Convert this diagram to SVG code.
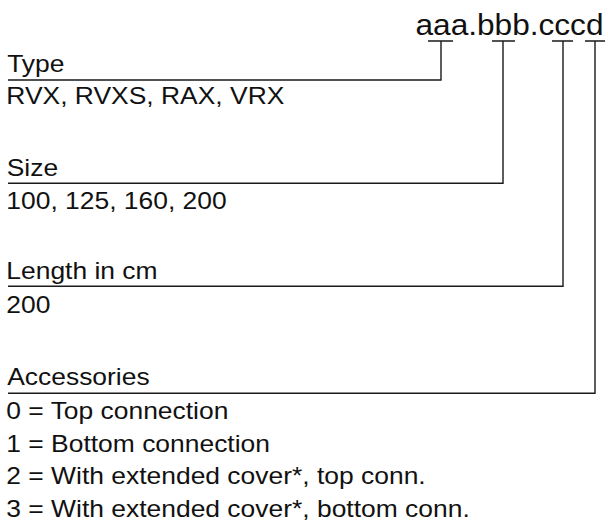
<svg xmlns="http://www.w3.org/2000/svg" width="608" height="526" viewBox="0 0 608 526">
<style>
.t{font-family:"Liberation Sans",Arial,sans-serif;font-size:23.5px;fill:#111}
.title{font-family:"Liberation Sans",Arial,sans-serif;font-size:30px;fill:#111}
.c{fill:none;stroke:#1a1a1a;stroke-width:1.4}
</style>
<rect width="608" height="526" fill="#fff"/>
<g id="code">
<text class="title" x="415.5" y="35" textLength="188" lengthAdjust="spacingAndGlyphs">aaa.bbb.cccd</text>
</g>
<g id="connectors">
<path class="c" d="M428 41H453M441 41V80H8"/>
<path class="c" d="M492 41H515M503 41V183.3H8"/>
<path class="c" d="M552 41H573M563 41V286.3H8"/>
<path class="c" d="M585 41H605M595 41V393.3H8"/>
</g>
<g transform="scale(1.125 1)">
<g id="type">
<text class="t" x="6.4" y="72">Type</text>
<text class="t" x="5.6" y="104">RVX, RVXS, RAX, VRX</text>
</g>
<g id="size">
<text class="t" x="6" y="176.5">Size</text>
<text class="t" x="5.6" y="209">100, 125, 160, 200</text>
</g>
<g id="length">
<text class="t" x="5.6" y="279.5">Length in cm</text>
<text class="t" x="5.6" y="313">200</text>
</g>
<g id="accessories">
<text class="t" x="6.4" y="385">Accessories</text>
<text class="t" x="5.6" y="419.5">0 = Top connection</text>
<text class="t" x="5.6" y="452">1 = Bottom connection</text>
<text class="t" x="5.6" y="484.5">2 = With extended cover*, top conn.</text>
<text class="t" x="5.6" y="517">3 = With extended cover*, bottom conn.</text>
</g>
</g>
</svg>
